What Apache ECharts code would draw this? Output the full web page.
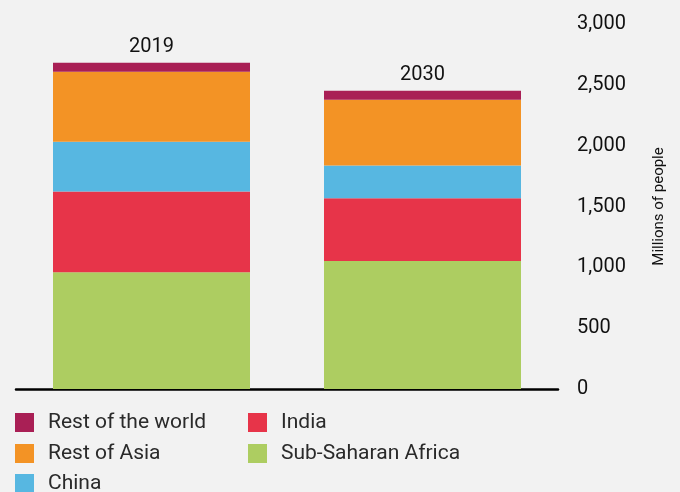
<!DOCTYPE html>
<html><head><meta charset="utf-8">
<script src="https://cdn.jsdelivr.net/npm/echarts@6/dist/echarts.min.js"></script>
<style>html,body{margin:0;padding:0;background:#f2f2f2}#c{width:680px;height:492px}</style>
</head><body><div id="c"></div>
<script>
var categories = ['2019', '2030'];
var subSaharanAfrica = [959, 1052];
var india = [664, 516];
var china = [410, 268];
var restOfAsia = [574, 541];
var restOfWorld = [74, 74];
var yTicks = [0, 500, 1000, 1500, 2000, 2500, 3000];
var legendNames = ['Rest of the world', 'Rest of Asia', 'China', 'India', 'Sub-Saharan Africa'];

var chart = echarts.init(document.getElementById('c'));
var font = 'Roboto';
function mk(name, data, color, top) {
  var s = { name: name, type: 'bar', stack: 'total', data: data, barWidth: 197,
    itemStyle: { color: color }, emphasis: { disabled: true } };
  if (top) {
    s.label = { show: true, position: 'top', distance: 6, color: '#111', fontFamily: font, fontSize: 20,
      formatter: function (p) { return categories[p.dataIndex]; } };
  }
  return s;
}
var legPos = [[15, 412], [15, 443], [15, 473], [248, 412], [248, 443]];
var legends = legendNames.map(function (n, i) {
  return { data: [n], orient: 'horizontal', left: legPos[i][0], top: legPos[i][1],
    itemWidth: 19, itemHeight: 19, icon: 'rect', padding: 0,
    textStyle: { color: '#2a2a2a', fontFamily: font, fontSize: 21, padding: [0, 0, 0, 9] } };
});
chart.setOption({
  backgroundColor: '#f2f2f2',
  animation: false,
  grid: { left: 16, right: 122, top: 24, bottom: 103 },
  legend: legends,
  xAxis: { type: 'category', data: categories,
    axisLine: { lineStyle: { color: '#000', width: 2.5 } },
    axisTick: { show: false }, axisLabel: { show: false } },
  yAxis: { type: 'value', position: 'right', min: 0, max: 3000, interval: 500,
    splitLine: { show: false }, axisLine: { show: false }, axisTick: { show: false },
    axisLabel: { margin: 19, color: '#111', fontFamily: font, fontSize: 20, padding: [3, 0, 0, 0],
      formatter: function (v) { return yTicks.indexOf(v) >= 0 ? v.toLocaleString('en-US') : ''; } },
    name: 'Millions of people', nameLocation: 'middle', nameRotate: 90, nameGap: 94,
    nameTextStyle: { color: '#111', fontFamily: font, fontSize: 15 } },
  series: [
    mk('Sub-Saharan Africa', subSaharanAfrica, '#adcd61'),
    mk('India', india, '#e73449'),
    mk('China', china, '#57b7e1'),
    mk('Rest of Asia', restOfAsia, '#f39325'),
    mk('Rest of the world', restOfWorld, '#a91f55', true)
  ]
});
</script></body></html>
